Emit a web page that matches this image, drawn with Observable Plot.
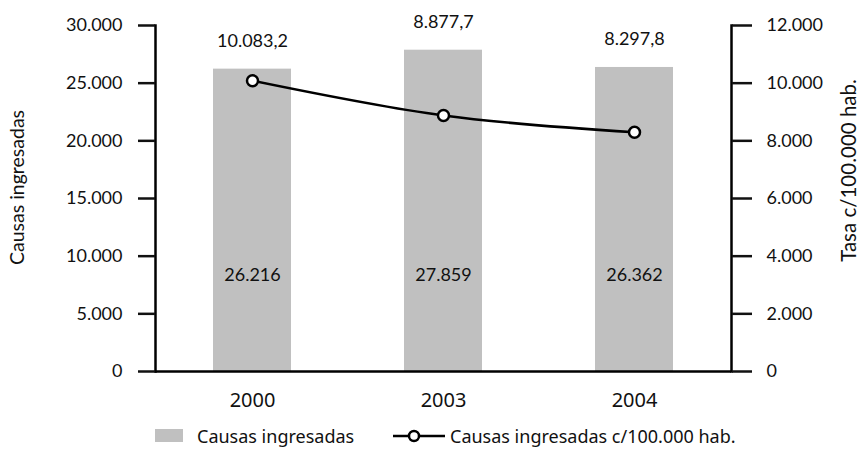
<!DOCTYPE html>
<html><head><meta charset="utf-8">
<script src="https://cdn.jsdelivr.net/npm/d3@7"></script>
<script src="https://cdn.jsdelivr.net/npm/@observablehq/plot@0.6"></script>
<style>
body{margin:0;background:#fff;}
#legend{position:relative;width:861px;height:31px;font-family:"Noto Sans",sans-serif;font-size:18px;color:#111;}
#legend .it{position:absolute;top:0;height:31px;display:flex;align-items:center;white-space:nowrap;}
</style></head><body><div id="chart"></div><div id="legend"></div><script>
const years = ["2000", "2003", "2004"];
const causas = [26216, 27859, 26362];
const tasa = [10083.2, 8877.7, 8297.8];
const leftTicks = [0, 5000, 10000, 15000, 20000, 25000, 30000];
const rightTicks = [0, 2000, 4000, 6000, 8000, 10000, 12000];
const leftLabel = "Causas ingresadas";
const rightLabel = "Tasa c/100.000 hab.";
const legendBar = "Causas ingresadas";
const legendLine = "Causas ingresadas c/100.000 hab.";

const ratio = 30000 / 12000;
const loc = d3.formatLocale({decimal: ",", thousands: ".", grouping: [3], currency: ["$", ""]});
const fInt = loc.format(",.0f"), fDec = loc.format(",.1f");
const data = years.map((y, i) => ({year: y, causas: causas[i], tasa: tasa[i], tasaScaled: tasa[i] * ratio}));

const FT = "Lato, sans-serif";
const chart = Plot.plot({
  width: 861, height: 420,
  marginLeft: 155, marginRight: 130, marginTop: 25, marginBottom: 49,
  style: {fontFamily: FT, fontSize: "18px", color: "#111", background: "white"},
  x: {domain: years, paddingInner: 0.59, paddingOuter: 0.3},
  y: {domain: [0, 30000]},
  marks: [
    Plot.barY(data, {x: "year", y: "causas", fill: "#c0c0c0"}),
    Plot.frame({anchor: "left", stroke: "black", strokeWidth: 2.5}),
    Plot.frame({anchor: "right", stroke: "black", strokeWidth: 2.5}),
    Plot.ruleY([0], {stroke: "black", strokeWidth: 2.5}),
    Plot.axisY(leftTicks, {anchor: "left", tickSize: 17, tickPadding: 16, strokeWidth: 2.5, tickFormat: fInt, label: null, fontSize: 18}),
    Plot.axisY(rightTicks.map(d => d * ratio), {anchor: "right", tickSize: 20, tickPadding: 15, strokeWidth: 2.5, tickFormat: d => fInt(d / ratio), label: null, fontSize: 18}),
    Plot.axisX({tickSize: 0, tickPadding: 21, label: null, fontFamily: "Noto Sans", fontSize: 20}),
    Plot.line(data, {x: "year", y: "tasaScaled", curve: "catmull-rom", stroke: "black", strokeWidth: 2.5}),
    Plot.dot(data, {x: "year", y: "tasaScaled", r: 5.5, fill: "white", stroke: "black", strokeWidth: 2.5}),
    Plot.text(data, {x: "year", y: "causas", text: d => fDec(d.tasa), dy: -28, fontSize: 18, fill: "#111"}),
    Plot.text(data, {x: "year", text: d => fInt(d.causas), frameAnchor: "bottom", dy: -91, fontSize: 18, fill: "#111"}),
    Plot.text([leftLabel], {frameAnchor: "left", textAnchor: "middle", text: d => d, rotate: -90, dx: -138, dy: -11, fontSize: 19.5, fill: "#111"}),
    Plot.text([rightLabel], {frameAnchor: "right", textAnchor: "middle", text: d => d, rotate: -90, dx: 118, dy: -28, fontSize: 20.5, fill: "#111"})
  ]
});
document.getElementById("chart").appendChild(chart);

const lg = document.getElementById("legend");
lg.innerHTML = `
<div class="it" style="left:155px"><span style="display:inline-block;width:28px;height:13px;background:#c0c0c0;margin-right:14px"></span>${legendBar}</div>
<div class="it" style="left:393px"><svg width="54" height="16" style="margin-right:3px"><line x1="0" y1="8" x2="52" y2="8" stroke="black" stroke-width="2.5"/><circle cx="21" cy="8" r="5" fill="white" stroke="black" stroke-width="2.5"/></svg>${legendLine}</div>`;
</script></body></html>
